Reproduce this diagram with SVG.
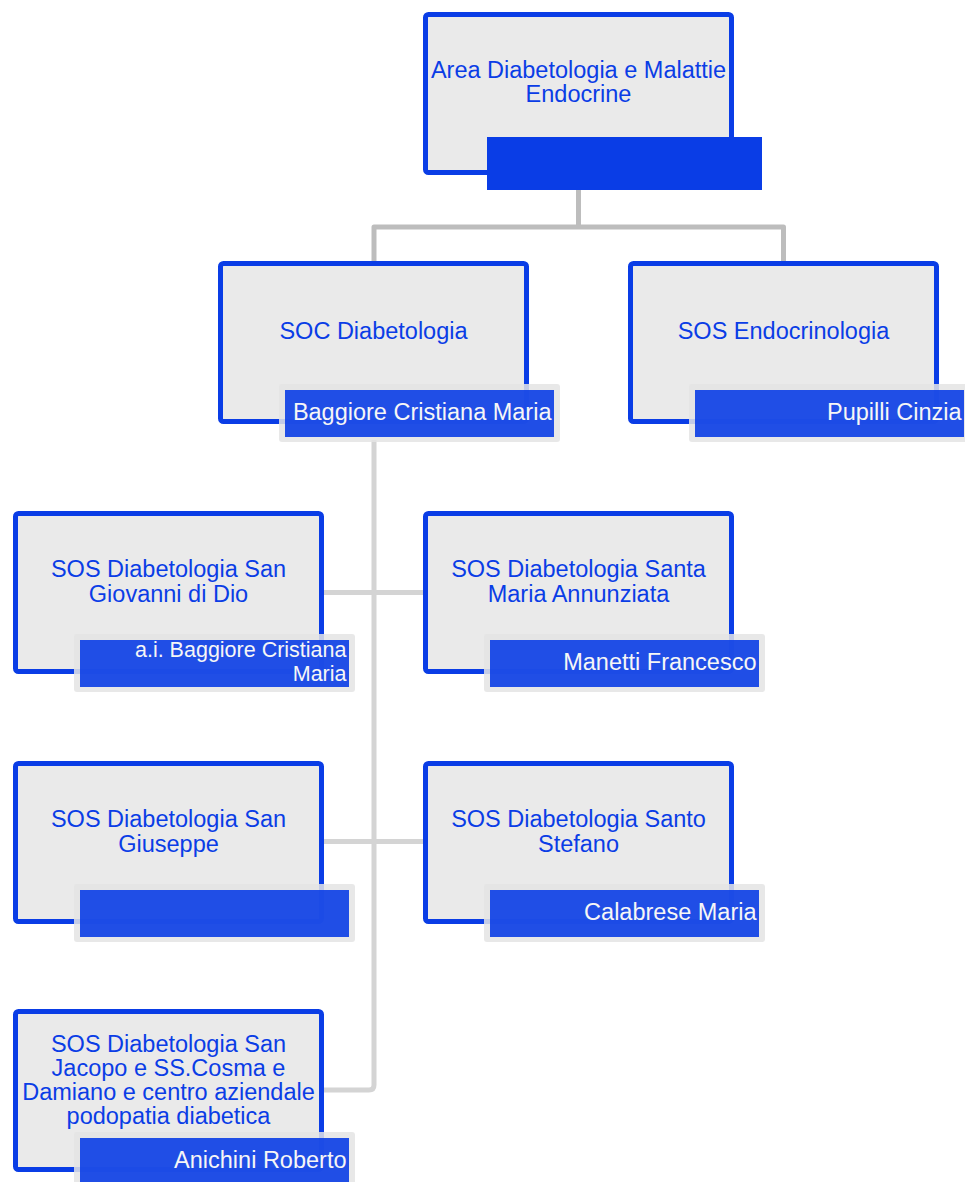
<svg xmlns="http://www.w3.org/2000/svg" width="965" height="1182" viewBox="0 0 965 1182">
  <style>
    .box { fill: #eaeaea; stroke: #0a3de6; stroke-width: 5; }
    .title { font-family: "Liberation Sans", Arial, sans-serif; font-size: 23.5px; fill: #0a3de6; text-anchor: middle; }
    .halo { fill: #e4e4e4; opacity: 0.85; }
    .tag { fill: #0a3de6; opacity: 0.9; }
    .tag-solid { fill: #0a3de6; }
    .name { font-family: "Liberation Sans", Arial, sans-serif; font-size: 23.5px; fill: #f6f6f6; text-anchor: end; }
    .name.small { font-size: 21.5px; }
    .link-top { fill: none; stroke: #bdbdbd; stroke-width: 5; stroke-linejoin: round; }
    .link { fill: none; stroke: #d4d4d4; stroke-width: 5; stroke-linejoin: round; }
  </style>

  <!-- connectors -->
  <g id="connectors">
    <path class="link-top" d="M578.5 175 V227"/>
    <path class="link-top" d="M374 261 V227 H783.5 V261"/>
    <path class="link" d="M374 440 V1085 Q374 1090 369 1090 H324"/>
    <path class="link" d="M324 592.5 H423"/>
    <path class="link" d="M324 841.5 H423"/>
  </g>

  <!-- root -->
  <g id="area-diabetologia">
    <rect class="box" x="425.5" y="14.5" width="306" height="158" rx="3"/>
    <text class="title" x="578.5" y="77.5">Area Diabetologia e Malattie</text>
    <text class="title" x="578.5" y="101.5">Endocrine</text>
    <rect class="tag-solid" x="487" y="137" width="275" height="53"/>
  </g>

  <g id="soc-diabetologia">
    <rect class="box" x="220.5" y="263.5" width="306" height="158" rx="3"/>
    <text class="title" x="373.5" y="338.5">SOC Diabetologia</text>
    <rect class="halo" x="279" y="384" width="281" height="58" rx="3"/>
    <rect class="tag" x="285" y="390" width="269" height="47"/>
    <text class="name" x="551.5" y="419.5">Baggiore Cristiana Maria</text>
  </g>

  <g id="sos-endocrinologia">
    <rect class="box" x="630.5" y="263.5" width="306" height="158" rx="3"/>
    <text class="title" x="783.5" y="338.5">SOS Endocrinologia</text>
    <rect class="halo" x="689" y="384" width="281" height="58" rx="3"/>
    <rect class="tag" x="695" y="390" width="269" height="47"/>
    <text class="name" x="961.5" y="419.5">Pupilli Cinzia</text>
  </g>

  <g id="sos-san-giovanni">
    <rect class="box" x="15.5" y="513.5" width="306" height="158" rx="3"/>
    <text class="title" x="168.5" y="576.5">SOS Diabetologia San</text>
    <text class="title" x="168.5" y="601.5">Giovanni di Dio</text>
    <rect class="halo" x="74" y="634" width="281" height="58" rx="3"/>
    <rect class="tag" x="80" y="640" width="269" height="47"/>
    <text class="name small" x="346.5" y="657">a.i. Baggiore Cristiana</text>
    <text class="name small" x="346.5" y="681">Maria</text>
  </g>

  <g id="sos-santa-maria-annunziata">
    <rect class="box" x="425.5" y="513.5" width="306" height="158" rx="3"/>
    <text class="title" x="578.5" y="576.5">SOS Diabetologia Santa</text>
    <text class="title" x="578.5" y="601.5">Maria Annunziata</text>
    <rect class="halo" x="484" y="634" width="281" height="58" rx="3"/>
    <rect class="tag" x="490" y="640" width="269" height="47"/>
    <text class="name" x="756.5" y="669.5">Manetti Francesco</text>
  </g>

  <g id="sos-san-giuseppe">
    <rect class="box" x="15.5" y="763.5" width="306" height="158" rx="3"/>
    <text class="title" x="168.5" y="826.5">SOS Diabetologia San</text>
    <text class="title" x="168.5" y="851.5">Giuseppe</text>
    <rect class="halo" x="74" y="884" width="281" height="58" rx="3"/>
    <rect class="tag" x="80" y="890" width="269" height="47"/>
  </g>

  <g id="sos-santo-stefano">
    <rect class="box" x="425.5" y="763.5" width="306" height="158" rx="3"/>
    <text class="title" x="578.5" y="826.5">SOS Diabetologia Santo</text>
    <text class="title" x="578.5" y="851.5">Stefano</text>
    <rect class="halo" x="484" y="884" width="281" height="58" rx="3"/>
    <rect class="tag" x="490" y="890" width="269" height="47"/>
    <text class="name" x="756.5" y="919.5">Calabrese Maria</text>
  </g>

  <g id="sos-san-jacopo">
    <rect class="box" x="15.5" y="1011.5" width="306" height="158" rx="3"/>
    <text class="title" x="168.5" y="1052">SOS Diabetologia San</text>
    <text class="title" x="168.5" y="1076">Jacopo e SS.Cosma e</text>
    <text class="title" x="168.5" y="1100">Damiano e centro aziendale</text>
    <text class="title" x="168.5" y="1124">podopatia diabetica</text>
    <rect class="halo" x="74" y="1132" width="281" height="58" rx="3"/>
    <rect class="tag" x="80" y="1138" width="269" height="47"/>
    <text class="name" x="346.5" y="1167.5">Anichini Roberto</text>
  </g>
</svg>
